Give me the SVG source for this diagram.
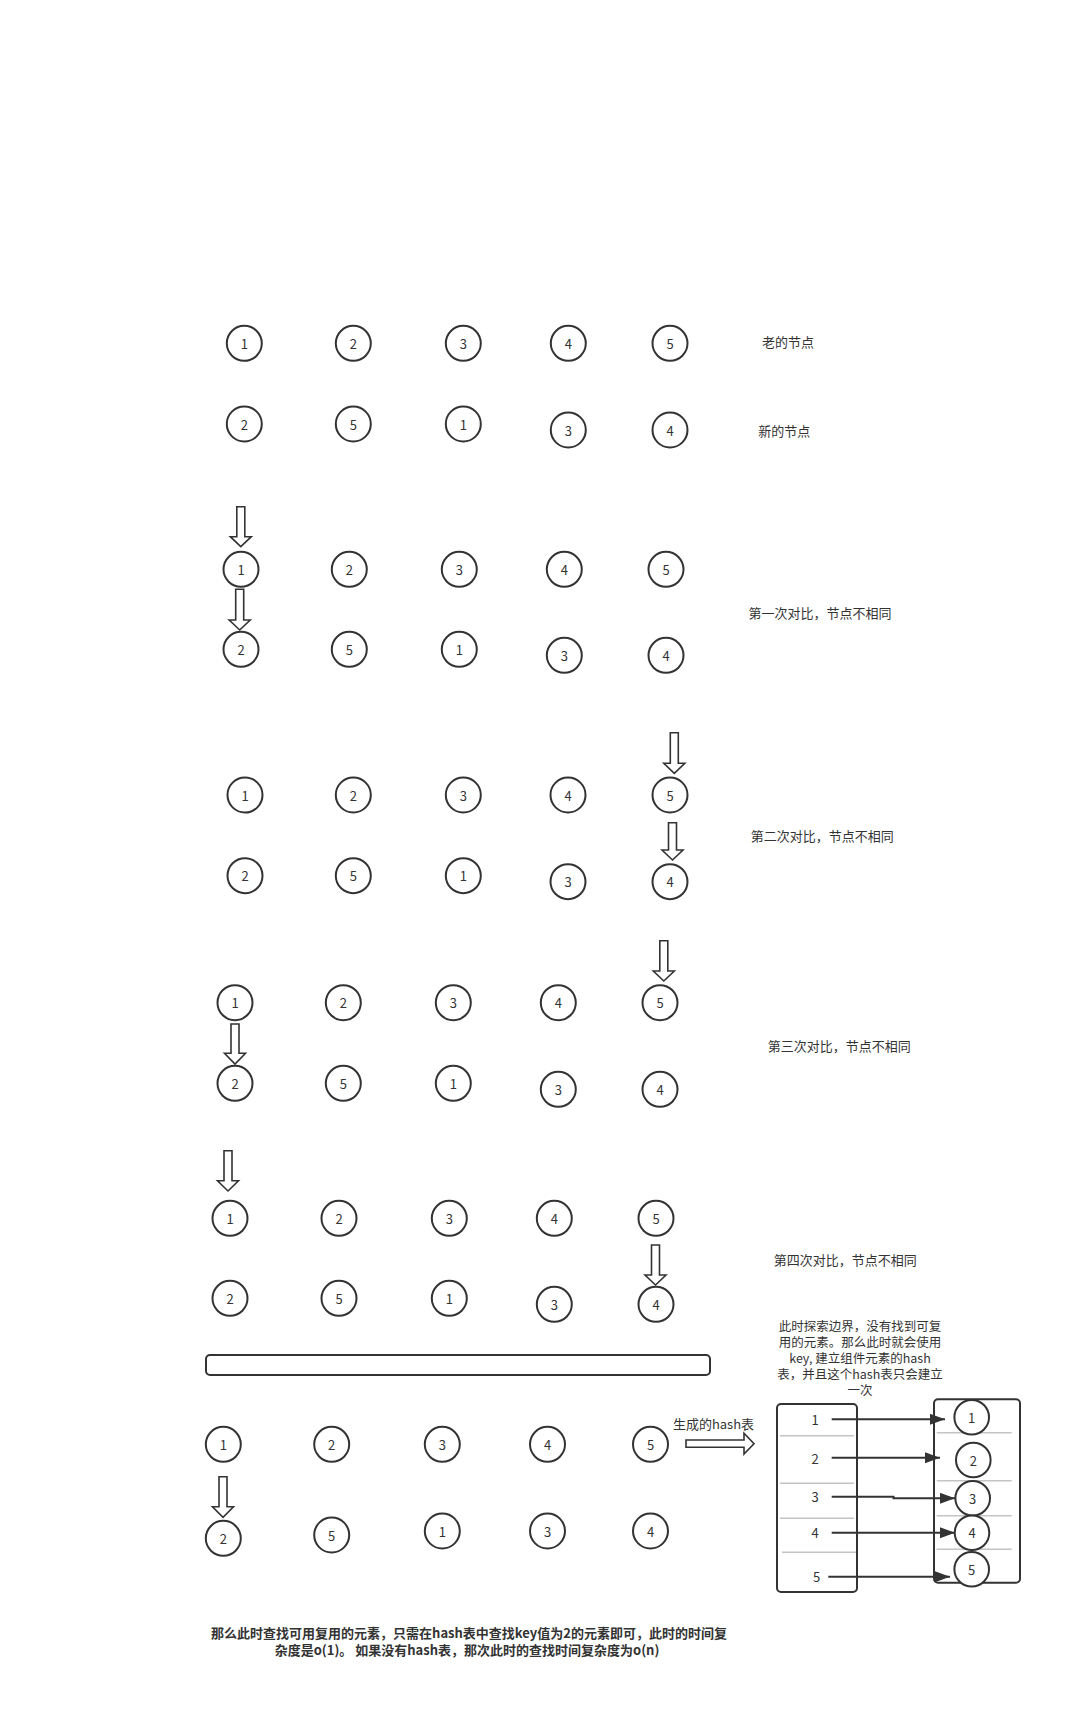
<svg xmlns="http://www.w3.org/2000/svg" width="1082" height="1732" viewBox="0 0 1082 1732">
<defs>
<style>
.n{fill:#fff;stroke:#333;stroke-width:2}
.t{font-family:"Noto Sans CJK SC","Noto Sans",sans-serif;font-size:13px;fill:#333;text-anchor:middle;dominant-baseline:central}
.s{font-size:12.5px}
.b{font-weight:bold}
.ba{fill:#fff;stroke:#333;stroke-width:1.6;stroke-linejoin:miter}
.box{fill:#fff;stroke:#333;stroke-width:2}
.sep{stroke:#c4c4c4;stroke-width:1.5;fill:none}
.ln{stroke:#333;stroke-width:2;fill:none}
</style>
<marker id="ah" markerUnits="userSpaceOnUse" markerWidth="16" markerHeight="12" refX="15" refY="5.5" orient="auto">
<path d="M0,0 L15,5.5 L0,11 Z" fill="#333"/>
</marker>
</defs>
<rect width="1082" height="1732" fill="#fff"/>

<!-- Section 1 -->
<g id="s1-old-1"><circle class="n" cx="244.3" cy="343.3" r="17.5"/><text class="t" x="244.3" y="343.3">1</text></g>
<g id="s1-old-2"><circle class="n" cx="353.3" cy="343.3" r="17.5"/><text class="t" x="353.3" y="343.3">2</text></g>
<g id="s1-old-3"><circle class="n" cx="463.3" cy="343.3" r="17.5"/><text class="t" x="463.3" y="343.3">3</text></g>
<g id="s1-old-4"><circle class="n" cx="568.3" cy="343.3" r="17.5"/><text class="t" x="568.3" y="343.3">4</text></g>
<g id="s1-old-5"><circle class="n" cx="670" cy="343.3" r="17.5"/><text class="t" x="670" y="343.3">5</text></g>
<g id="s1-new-2"><circle class="n" cx="244.3" cy="424" r="17.5"/><text class="t" x="244.3" y="424">2</text></g>
<g id="s1-new-5"><circle class="n" cx="353.3" cy="424" r="17.5"/><text class="t" x="353.3" y="424">5</text></g>
<g id="s1-new-1"><circle class="n" cx="463.3" cy="424" r="17.5"/><text class="t" x="463.3" y="424">1</text></g>
<g id="s1-new-3"><circle class="n" cx="568.3" cy="430" r="17.5"/><text class="t" x="568.3" y="430">3</text></g>
<g id="s1-new-4"><circle class="n" cx="670" cy="430" r="17.5"/><text class="t" x="670" y="430">4</text></g>
<g id="label-old"><text class="t" x="788" y="341.7">老的节点</text></g>
<g id="label-new"><text class="t" x="784.2" y="430">新的节点</text></g>

<!-- Section 2 -->
<g id="s2-old-1"><circle class="n" cx="241" cy="569.3" r="17.5"/><text class="t" x="241" y="569.3">1</text></g>
<g id="s2-old-2"><circle class="n" cx="349.3" cy="569.3" r="17.5"/><text class="t" x="349.3" y="569.3">2</text></g>
<g id="s2-old-3"><circle class="n" cx="459.3" cy="569.3" r="17.5"/><text class="t" x="459.3" y="569.3">3</text></g>
<g id="s2-old-4"><circle class="n" cx="564.3" cy="569.3" r="17.5"/><text class="t" x="564.3" y="569.3">4</text></g>
<g id="s2-old-5"><circle class="n" cx="666" cy="569.3" r="17.5"/><text class="t" x="666" y="569.3">5</text></g>
<g id="s2-new-2"><circle class="n" cx="241" cy="649.3" r="17.5"/><text class="t" x="241" y="649.3">2</text></g>
<g id="s2-new-5"><circle class="n" cx="349.3" cy="649.3" r="17.5"/><text class="t" x="349.3" y="649.3">5</text></g>
<g id="s2-new-1"><circle class="n" cx="459.3" cy="649.3" r="17.5"/><text class="t" x="459.3" y="649.3">1</text></g>
<g id="s2-new-3"><circle class="n" cx="564.3" cy="655.3" r="17.5"/><text class="t" x="564.3" y="655.3">3</text></g>
<g id="s2-new-4"><circle class="n" cx="666" cy="655.3" r="17.5"/><text class="t" x="666" y="655.3">4</text></g>
<g id="label-cmp1"><text class="t" x="820" y="612.3">第一次对比，节点不相同</text></g>

<!-- Section 3 -->
<g id="s3-old-1"><circle class="n" cx="245" cy="795" r="17.5"/><text class="t" x="245" y="795">1</text></g>
<g id="s3-old-2"><circle class="n" cx="353.3" cy="795" r="17.5"/><text class="t" x="353.3" y="795">2</text></g>
<g id="s3-old-3"><circle class="n" cx="463.3" cy="795" r="17.5"/><text class="t" x="463.3" y="795">3</text></g>
<g id="s3-old-4"><circle class="n" cx="568" cy="795" r="17.5"/><text class="t" x="568" y="795">4</text></g>
<g id="s3-old-5"><circle class="n" cx="670" cy="795" r="17.5"/><text class="t" x="670" y="795">5</text></g>
<g id="s3-new-2"><circle class="n" cx="245" cy="875.7" r="17.5"/><text class="t" x="245" y="875.7">2</text></g>
<g id="s3-new-5"><circle class="n" cx="353.3" cy="875.7" r="17.5"/><text class="t" x="353.3" y="875.7">5</text></g>
<g id="s3-new-1"><circle class="n" cx="463.3" cy="875.7" r="17.5"/><text class="t" x="463.3" y="875.7">1</text></g>
<g id="s3-new-3"><circle class="n" cx="568" cy="881.7" r="17.5"/><text class="t" x="568" y="881.7">3</text></g>
<g id="s3-new-4"><circle class="n" cx="670" cy="881.7" r="17.5"/><text class="t" x="670" y="881.7">4</text></g>
<g id="label-cmp2"><text class="t" x="822.3" y="835">第二次对比，节点不相同</text></g>

<!-- Section 4 -->
<g id="s4-old-1"><circle class="n" cx="235" cy="1002.7" r="17.5"/><text class="t" x="235" y="1002.7">1</text></g>
<g id="s4-old-2"><circle class="n" cx="343.3" cy="1002.7" r="17.5"/><text class="t" x="343.3" y="1002.7">2</text></g>
<g id="s4-old-3"><circle class="n" cx="453.3" cy="1002.7" r="17.5"/><text class="t" x="453.3" y="1002.7">3</text></g>
<g id="s4-old-4"><circle class="n" cx="558.3" cy="1002.7" r="17.5"/><text class="t" x="558.3" y="1002.7">4</text></g>
<g id="s4-old-5"><circle class="n" cx="660" cy="1002.7" r="17.5"/><text class="t" x="660" y="1002.7">5</text></g>
<g id="s4-new-2"><circle class="n" cx="235" cy="1083.3" r="17.5"/><text class="t" x="235" y="1083.3">2</text></g>
<g id="s4-new-5"><circle class="n" cx="343.3" cy="1083.3" r="17.5"/><text class="t" x="343.3" y="1083.3">5</text></g>
<g id="s4-new-1"><circle class="n" cx="453.3" cy="1083.3" r="17.5"/><text class="t" x="453.3" y="1083.3">1</text></g>
<g id="s4-new-3"><circle class="n" cx="558.3" cy="1089.3" r="17.5"/><text class="t" x="558.3" y="1089.3">3</text></g>
<g id="s4-new-4"><circle class="n" cx="660" cy="1089.3" r="17.5"/><text class="t" x="660" y="1089.3">4</text></g>
<g id="label-cmp3"><text class="t" x="839.2" y="1045">第三次对比，节点不相同</text></g>

<!-- Section 5 -->
<g id="s5-old-1"><circle class="n" cx="230" cy="1218.3" r="17.5"/><text class="t" x="230" y="1218.3">1</text></g>
<g id="s5-old-2"><circle class="n" cx="339" cy="1218.3" r="17.5"/><text class="t" x="339" y="1218.3">2</text></g>
<g id="s5-old-3"><circle class="n" cx="449.3" cy="1218.3" r="17.5"/><text class="t" x="449.3" y="1218.3">3</text></g>
<g id="s5-old-4"><circle class="n" cx="554.3" cy="1218.3" r="17.5"/><text class="t" x="554.3" y="1218.3">4</text></g>
<g id="s5-old-5"><circle class="n" cx="656" cy="1218.3" r="17.5"/><text class="t" x="656" y="1218.3">5</text></g>
<g id="s5-new-2"><circle class="n" cx="230" cy="1298.3" r="17.5"/><text class="t" x="230" y="1298.3">2</text></g>
<g id="s5-new-5"><circle class="n" cx="339" cy="1298.3" r="17.5"/><text class="t" x="339" y="1298.3">5</text></g>
<g id="s5-new-1"><circle class="n" cx="449.3" cy="1298.3" r="17.5"/><text class="t" x="449.3" y="1298.3">1</text></g>
<g id="s5-new-3"><circle class="n" cx="554.3" cy="1304.3" r="17.5"/><text class="t" x="554.3" y="1304.3">3</text></g>
<g id="s5-new-4"><circle class="n" cx="656" cy="1304.3" r="17.5"/><text class="t" x="656" y="1304.3">4</text></g>
<g id="label-cmp4"><text class="t" x="845.2" y="1259.3">第四次对比，节点不相同</text></g>

<g id="divider"><rect class="box" x="206" y="1355" width="504" height="20" rx="4"/></g>

<!-- Section 6 -->
<g id="s6-old-1"><circle class="n" cx="223.3" cy="1444.3" r="17.5"/><text class="t" x="223.3" y="1444.3">1</text></g>
<g id="s6-old-2"><circle class="n" cx="331.7" cy="1444.3" r="17.5"/><text class="t" x="331.7" y="1444.3">2</text></g>
<g id="s6-old-3"><circle class="n" cx="442.3" cy="1444.3" r="17.5"/><text class="t" x="442.3" y="1444.3">3</text></g>
<g id="s6-old-4"><circle class="n" cx="547.5" cy="1444.3" r="17.5"/><text class="t" x="547.5" y="1444.3">4</text></g>
<g id="s6-old-5"><circle class="n" cx="650.5" cy="1444.3" r="17.5"/><text class="t" x="650.5" y="1444.3">5</text></g>
<g id="s6-new-2"><circle class="n" cx="223.3" cy="1538.3" r="17.5"/><text class="t" x="223.3" y="1538.3">2</text></g>
<g id="s6-new-5"><circle class="n" cx="331.7" cy="1535" r="17.5"/><text class="t" x="331.7" y="1535">5</text></g>
<g id="s6-new-1"><circle class="n" cx="442.3" cy="1531" r="17.5"/><text class="t" x="442.3" y="1531">1</text></g>
<g id="s6-new-3"><circle class="n" cx="547.5" cy="1531" r="17.5"/><text class="t" x="547.5" y="1531">3</text></g>
<g id="s6-new-4"><circle class="n" cx="650.5" cy="1531" r="17.5"/><text class="t" x="650.5" y="1531">4</text></g>
<g id="label-hash"><text class="t" x="713.5" y="1423.3">生成的hash表</text></g>

<g id="note-top">
<text class="t s" x="860" y="1325">此时探索边界，没有找到可复</text>
<text class="t s" x="860" y="1341">用的元素。那么此时就会使用</text>
<text class="t s" x="860" y="1357">key, 建立组件元素的hash</text>
<text class="t s" x="860" y="1373">表，并且这个hash表只会建立</text>
<text class="t s" x="860" y="1389">一次</text>
</g>

<!-- Hash table keys -->
<g id="hash-keys">
<rect class="box" x="777" y="1404" width="80" height="188" rx="4"/>
<line class="sep" x1="780" y1="1435.7" x2="854" y2="1435.7"/>
<line class="sep" x1="780" y1="1483.3" x2="854" y2="1483.3"/>
<line class="sep" x1="780" y1="1518.3" x2="854" y2="1518.3"/>
<line class="sep" x1="782" y1="1552.3" x2="856" y2="1552.3"/>
<text class="t" x="815" y="1419.3">1</text>
<text class="t" x="815" y="1458.3">2</text>
<text class="t" x="815" y="1496.7">3</text>
<text class="t" x="815" y="1532.7">4</text>
<text class="t" x="816.7" y="1576.7">5</text>
</g>

<!-- Hash table values -->
<g id="hash-values">
<rect class="box" x="934" y="1399.3" width="86" height="183.4" rx="4"/>
<line class="sep" x1="936.7" y1="1432.7" x2="1011.7" y2="1432.7"/>
<line class="sep" x1="936.7" y1="1480.7" x2="1011.7" y2="1480.7"/>
<line class="sep" x1="936.7" y1="1515.7" x2="1011.7" y2="1515.7"/>
<line class="sep" x1="936.7" y1="1549.3" x2="1011.7" y2="1549.3"/>
</g>
<g id="hv-1"><circle class="n" cx="971.7" cy="1417.3" r="17.3"/><text class="t" x="971.7" y="1417.3">1</text></g>
<g id="hv-2"><circle class="n" cx="973.3" cy="1460" r="17.3"/><text class="t" x="973.3" y="1460">2</text></g>
<g id="hv-3"><circle class="n" cx="972.7" cy="1498.3" r="17.3"/><text class="t" x="972.7" y="1498.3">3</text></g>
<g id="hv-4"><circle class="n" cx="972" cy="1532.7" r="17.3"/><text class="t" x="972" y="1532.7">4</text></g>
<g id="hv-5"><circle class="n" cx="971.7" cy="1569.3" r="17.3"/><text class="t" x="971.7" y="1569.3">5</text></g>

<g id="note-bottom">
<text class="t b" x="469" y="1632">那么此时查找可用复用的元素，只需在hash表中查找key值为2的元素即可，此时的时间复</text>
<text class="t b" x="467" y="1649">杂度是o(1)。 如果没有hash表，那次此时的查找时间复杂度为o(n)</text>
</g>

<!-- Connectors -->
<g id="connectors">
<path class="ba" d="M236.8,506.7 H244.8 V536.7 H251.3 L240.8,546.7 L230.3,536.7 H236.8 Z"/>
<path class="ba" d="M235.7,589.3 H243.7 V620 H250.2 L239.7,630 L229.2,620 H235.7 Z"/>
<path class="ba" d="M670.3,732.7 H678.3 V763.3 H684.8 L674.3,773.3 L663.8,763.3 H670.3 Z"/>
<path class="ba" d="M668.5,822.7 H676.5 V850 H683 L672.5,860 L662,850 H668.5 Z"/>
<path class="ba" d="M659.8,940.7 H667.8 V971 H674.3 L663.8,981 L653.3,971 H659.8 Z"/>
<path class="ba" d="M231,1024 H239 V1053.3 H245.5 L235,1064 L224.5,1053.3 H231 Z"/>
<path class="ba" d="M224,1150.7 H232 V1180.7 H238.5 L228,1191 L217.5,1180.7 H224 Z"/>
<path class="ba" d="M651.5,1245 H659.5 V1275 H666 L655.5,1285 L645,1275 H651.5 Z"/>
<path class="ba" d="M219,1476.7 H227 V1506.7 H233.5 L223,1517.3 L212.5,1506.7 H219 Z"/>
<path class="ba" d="M686,1440 H744 V1433.3 L754,1443.7 L744,1454 V1447.3 H686 Z"/>
<path class="ln" marker-end="url(#ah)" d="M831.7,1419.3 H945"/>
<path class="ln" marker-end="url(#ah)" d="M831.7,1457.7 H940"/>
<path class="ln" marker-end="url(#ah)" d="M831.7,1496.7 H893.5 V1498.3 H955"/>
<path class="ln" marker-end="url(#ah)" d="M831.7,1532.7 H955"/>
<path class="ln" marker-end="url(#ah)" d="M828.3,1576.7 H950"/>
</g>
</svg>
